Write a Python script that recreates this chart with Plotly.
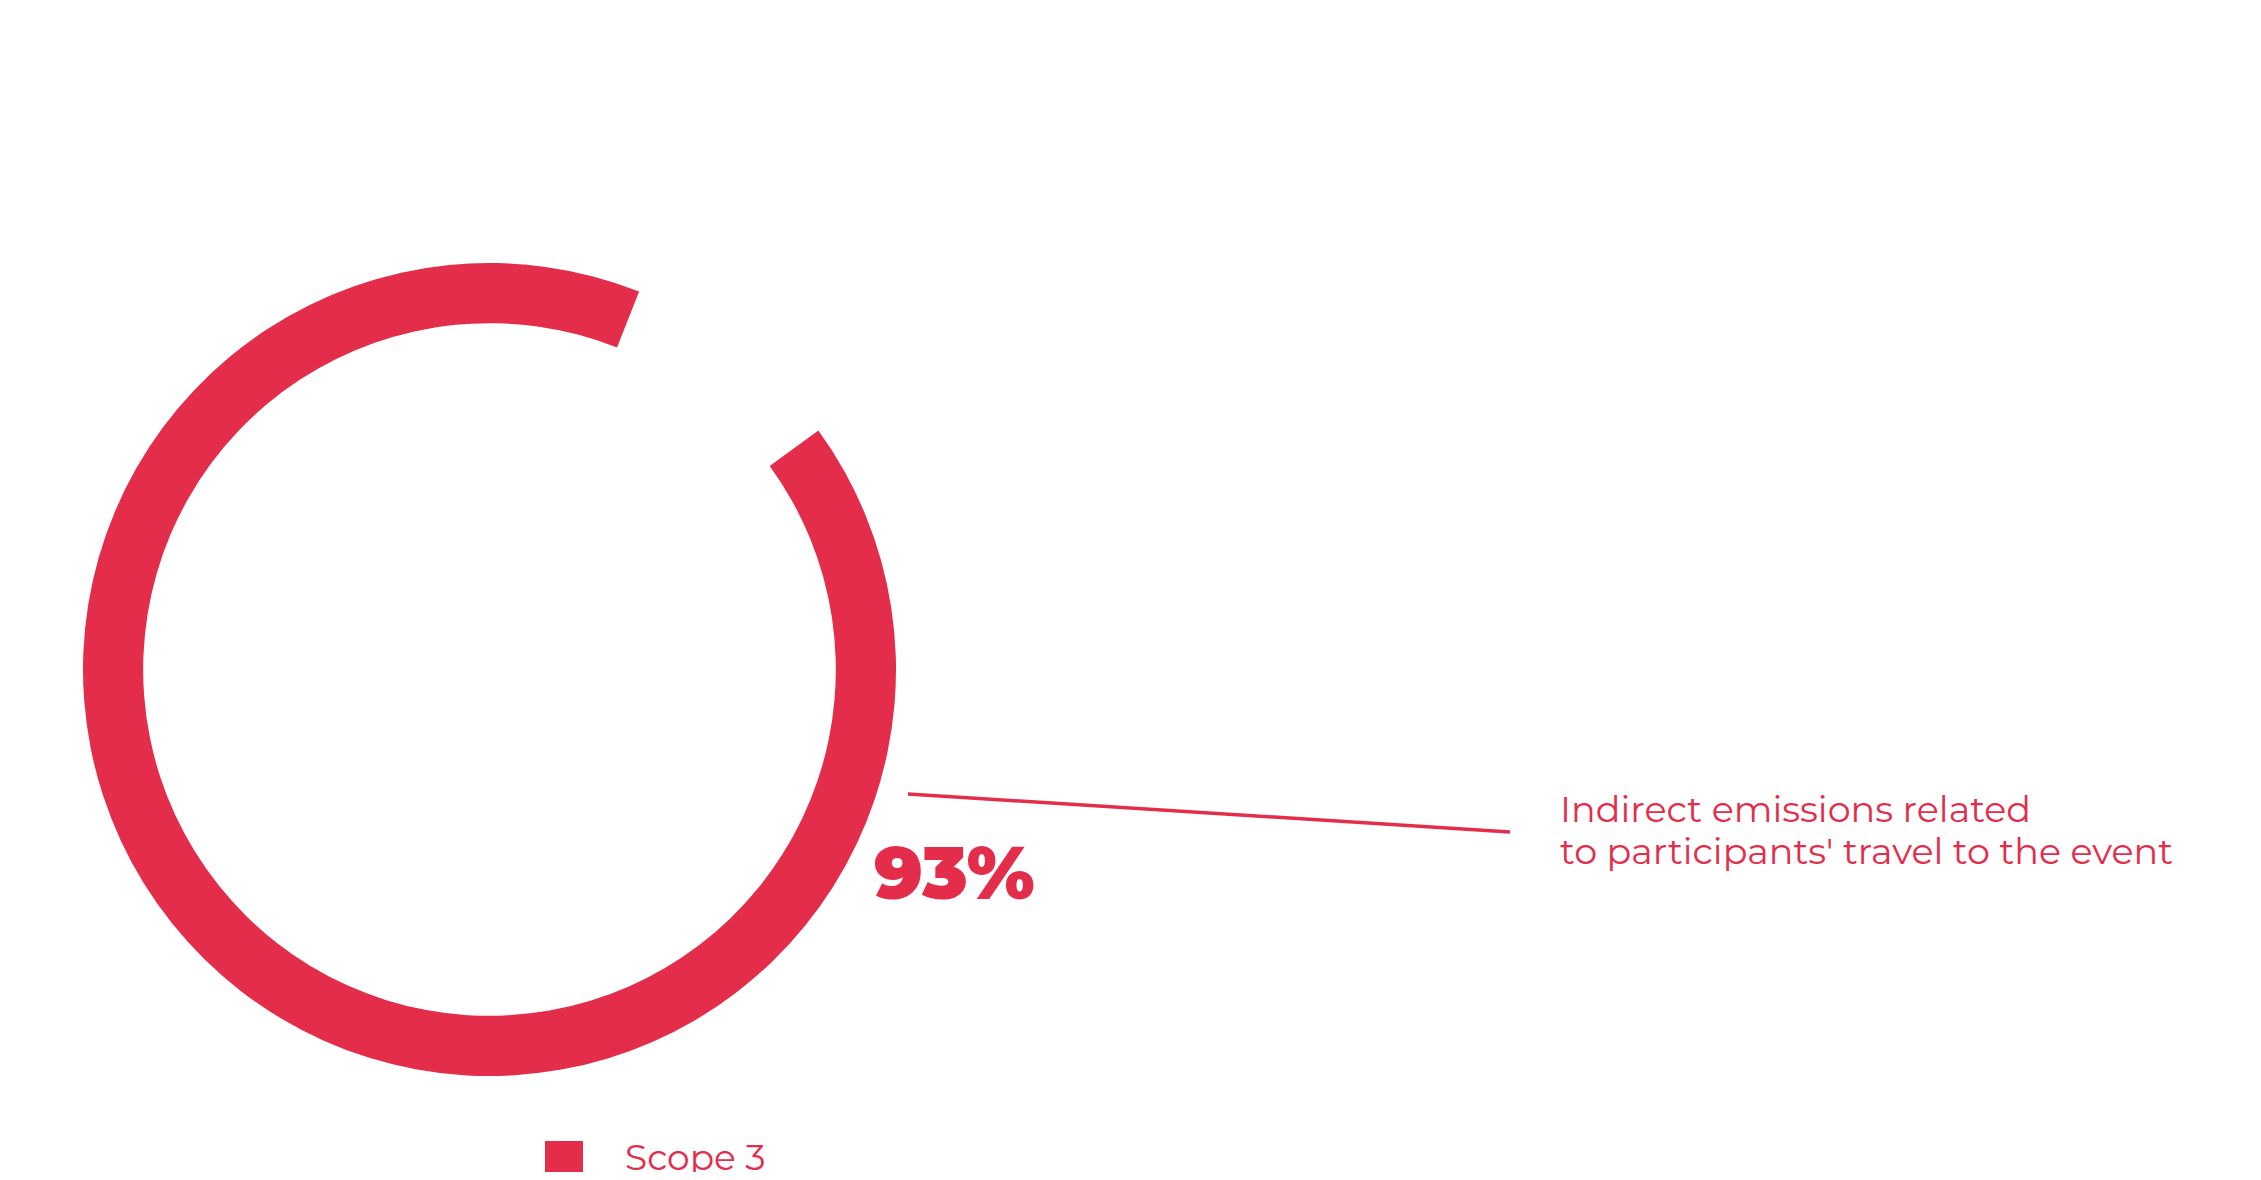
import plotly.graph_objects as go

RED = "#E42D4B"
TEXT_FONT = "Montserrat, DejaVu Sans, sans-serif"

# ring segments as drawn (share of the circle)
segment_labels = ["Scope 3", "Other"]
segment_values = [91, 9]
segment_colors = [RED, "rgba(0,0,0,0)"]

value_label = "93%"
description_lines = [
    "Indirect emissions related",
    "to participants' travel to the event",
]
legend_labels = ["Scope 3"]

# page adds an 8px body margin around the figure
PAD = 8
W, H = 2261 - 2 * PAD, 1180 - 2 * PAD


def px_x(x):
    return (x - PAD) / W


def px_y(y):
    return 1 - (y - PAD) / H


fig = go.Figure()
fig.add_trace(
    go.Pie(
        labels=segment_labels,
        values=segment_values,
        hole=0.852,
        sort=False,
        direction="clockwise",
        rotation=54,
        marker=dict(colors=segment_colors, line=dict(width=0)),
        textinfo="none",
        hoverinfo="label+percent",
        showlegend=False,
        domain=dict(x=[px_x(83), px_x(896)], y=[px_y(1076), px_y(263)]),
    )
)

# leader line from the ring to the description
fig.add_shape(
    type="line", xref="paper", yref="paper",
    x0=px_x(908), y0=px_y(794), x1=px_x(1510), y1=px_y(832),
    line=dict(color=RED, width=3.5),
)

fig.add_annotation(
    text=value_label,
    xref="paper", yref="paper", x=px_x(872), y=px_y(872),
    xanchor="left", yanchor="middle", showarrow=False,
    font=dict(family="Montserrat, Liberation Sans, Arial, sans-serif", size=74,
              color=RED, weight=900),
)

for i, line in enumerate(description_lines):
    fig.add_annotation(
        text=line,
        xref="paper", yref="paper", x=px_x(1558), y=px_y(809 + 42 * i),
        xanchor="left", yanchor="middle", showarrow=False,
        font=dict(family=TEXT_FONT, size=36.5, color=RED),
    )

# legend drawn by hand so the swatch can be large
fig.add_shape(
    type="rect", xref="paper", yref="paper",
    x0=px_x(545), x1=px_x(583), y0=px_y(1179), y1=px_y(1141),
    fillcolor=RED, line=dict(width=0),
)
fig.add_annotation(
    text=legend_labels[0],
    xref="paper", yref="paper", x=px_x(623), y=px_y(1157),
    xanchor="left", yanchor="middle", showarrow=False,
    font=dict(family=TEXT_FONT, size=36, color=RED),
)

fig.update_layout(
    width=W, height=H,
    margin=dict(l=0, r=0, t=0, b=0),
    paper_bgcolor="white",
    plot_bgcolor="white",
)

fig.write_html("out.html")
